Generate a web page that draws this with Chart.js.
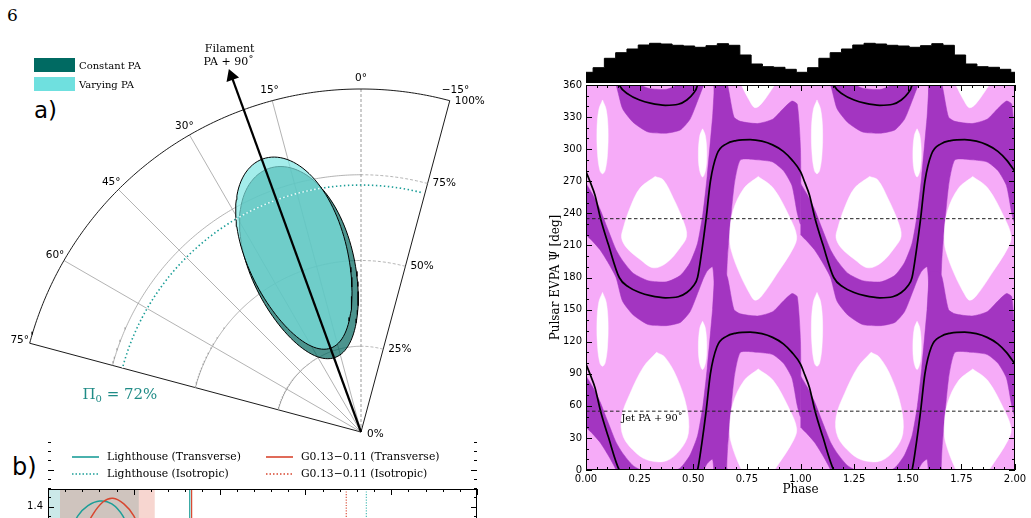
<!DOCTYPE html>
<html><head><meta charset="utf-8">
<script src="https://cdn.jsdelivr.net/npm/chart.js@4.4.1/dist/chart.umd.min.js"></script>
<style>
html,body{margin:0;padding:0;background:#fff;}
body{width:1031px;height:518px;overflow:hidden;position:relative;}
canvas{position:absolute;}
.t{position:absolute;white-space:nowrap;color:#000;line-height:1;}
</style></head>
<body>
<div class="t" style="left:7px;top:5px;font:17px 'DejaVu Serif',serif;">6</div>
<div class="t" style="left:34px;top:97px;font:23px 'DejaVu Sans',sans-serif;">a)</div>
<div class="t" style="left:12px;top:453px;font:24px 'DejaVu Sans',sans-serif;">b)</div>
<canvas id="cPolar" width="520" height="445" style="left:0;top:0"></canvas>
<canvas id="cB" width="520" height="200" style="left:0;top:440px"></canvas>
<canvas id="cHist" width="429" height="43" style="left:586px;top:40px"></canvas>
<canvas id="cMain" width="491" height="443" style="left:540px;top:75px"></canvas>
<script>
// ======================= DATA =======================
// ---- panel a (polar wedge) ----
const angleTicks = [-15, 0, 15, 30, 45, 60, 75];
const radialTicks = [25, 50, 75, 100];
const pi0Value = 72;
const filamentAngle = 20;
const filamentTip = 112;
const ellipseLabels = ['Constant PA', 'Varying PA'];
const ellipseR = [52.2, 55.3];
const ellipseTheta = [19.3, 19.8];
const ellipseMajor = [29.2, 29.3];
const ellipseMinor = [15.2, 14.6];
const eggFactor = 0.13;

// ---- panel b (partial) ----
const bLegend = ['Lighthouse (Transverse)', 'Lighthouse (Isotropic)', 'G0.13\u22120.11 (Transverse)', 'G0.13\u22120.11 (Isotropic)'];
const bTicksY = [0.8, 1.0, 1.2, 1.4];
const lhCurveX = [1.0, 1.74, 2.33, 3.02, 3.72, 4.36, 5.0];
const lhCurveY = [1.22, 1.35, 1.405, 1.43, 1.415, 1.35, 1.22];
const g013CurveX = [1.8, 2.56, 3.2, 3.78, 4.42, 5.0, 5.6];
const g013CurveY = [1.22, 1.35, 1.425, 1.445, 1.415, 1.35, 1.22];
const lhRange = [0, 5.29];
const g013Range = [0.7, 6.22];
const lhTransverse = 8.26, g013Transverse = 8.37;
const g013Isotropic = 17.38, lhIsotropic = 18.55;

// ---- right panel: pulse profile histogram ----
const histStart = -0.0196;
const histBinsPerPeriod = 19;
const histCounts = [10.7, 15.3, 24.7, 30.3, 34, 38, 39.7, 39, 37.7, 37, 35.7, 37.3, 39.3, 37.7, 28, 19, 16.3, 15.7, 13.7];

// ---- right panel: EVPA model curve (one period, deg) ----
const curvePhase = [0, 0.02, 0.042, 0.068, 0.104, 0.155, 0.2, 0.25, 0.3, 0.37, 0.43, 0.47, 0.5, 0.52, 0.54, 0.56, 0.58, 0.61, 0.655, 0.7, 0.765, 0.82, 0.87, 0.92, 0.96, 1.0];
const curvePA    = [279, 269, 257, 235, 211, 180, 171, 166, 163, 161, 162, 166, 172, 180, 205, 235, 270, 295, 305, 308, 309, 307.5, 304, 298, 290, 279];

// ---- right panel: inner (dark) probability band, one period ----
const bandPhase = [0, 0.03, 0.065, 0.10, 0.14, 0.17, 0.22, 0.29, 0.376, 0.44, 0.485, 0.52, 0.545, 0.565, 0.59, 0.605, 0.645, 0.66, 0.69, 0.72, 0.80, 0.87, 0.92, 0.96, 0.985, 1.0];
const bandUpper = [268, 258, 244, 226, 206, 196, 184, 177, 176, 182, 194, 212, 240, 275, 330, 365, 365, 360, 330, 326, 324, 328, 338, 345, 342, 300];
const bandLower = [220, 214, 206, 195, 180, 158, 145, 136, 135, 138, 148, 165, 178, 186, 190, 160, 150, 200, 265, 290, 290, 288, 280, 266, 240, 230];

// ---- right panel: outer (white) low-probability islands ----
const blobAPhase = [0.322, 0.36, 0.407, 0.454, 0.469, 0.438, 0.376, 0.314, 0.252, 0.19, 0.166, 0.174, 0.205, 0.252];
const blobAPA    = [274.4, 271.3, 254.2, 232.6, 218.6, 207.7, 193.8, 189.1, 196.9, 207.7, 217, 226.3, 245, 263.6];
const blobLowAPhase = [0.329, 0.368, 0.423, 0.469, 0.477, 0.438, 0.376, 0.298, 0.236, 0.174, 0.166, 0.205, 0.267];
const blobLowAPA    = [110, 105.4, 86.8, 58.9, 34.1, 18.6, 8.7, 8.7, 15.5, 31, 49.6, 71.3, 96.1];
const blobBPhase = [0.803, 0.873, 0.951, 0.982, 0.967, 0.889, 0.819, 0.788, 0.765, 0.718, 0.678, 0.67, 0.685, 0.737];
const blobBPA    = [274.4, 263.6, 235.7, 218.6, 207.7, 183, 162.8, 158.8, 164.4, 183, 204.7, 218.6, 241.9, 263.6];
const blobE1Phase = [0.077, 0.094, 0.103, 0.1, 0.089, 0.077, 0.065, 0.054, 0.051, 0.06];
const blobE1PA    = [346, 337, 318, 295, 280, 277, 280, 295, 318, 337];
const blobE2Phase = [0.5435, 0.556, 0.563, 0.558, 0.5435, 0.529, 0.524, 0.531];
const blobE2PA    = [319, 313, 297, 281, 274, 281, 297, 313];

const jetLines = [55, 235];
const jetLabel = 'Jet PA + 90\u02DA';

// ======================= STYLE / SETUP =======================
Chart.defaults.font.family = "'DejaVu Sans', sans-serif";
Chart.defaults.animation = false;
Chart.defaults.events = [];
Chart.defaults.plugins.legend.display = false;
Chart.defaults.plugins.tooltip.enabled = false;
Chart.defaults.elements.point.radius = 0;
Chart.defaults.elements.line.capBezierPoints = false;

const TEAL = '#1c9e98', RED = '#d8462f';
const DARK = '#a335c1', LIGHT = '#f6abf8';

// ======================= PANEL A =======================
function pol(r, deg){ const t = deg*Math.PI/180; return {x: -r*Math.sin(t), y: r*Math.cos(t)}; }
function arcPts(r, a0, a1){ const out=[]; const n=Math.max(2,Math.ceil(Math.abs(a1-a0)*2)); for(let i=0;i<=n;i++) out.push(pol(r, a0+(a1-a0)*i/n)); return out; }
function eggPts(i){
  const c = pol(ellipseR[i], ellipseTheta[i]);
  const t = ellipseTheta[i]*Math.PI/180;
  const er = {x:-Math.sin(t), y:Math.cos(t)}, ep = {x:Math.cos(t), y:Math.sin(t)};
  const pts=[];
  for(let k=0;k<=120;k++){
    const s = 2*Math.PI*k/120;
    const u = ellipseMajor[i]*Math.cos(s);
    const v = ellipseMinor[i]*(1+eggFactor*Math.cos(s))*Math.sin(s);
    pts.push({x:c.x+u*er.x+v*ep.x, y:c.y+u*er.y+v*ep.y});
  }
  return pts;
}
const aMin = angleTicks[0], aMax = angleTicks[angleTicks.length-1];
const pxPerPct = 3.43, originPx = {x:361, y:432}, cPW = 520, cPH = 445;
const polarSets = [];
radialTicks.forEach(r=>{
  const outer = r === radialTicks[radialTicks.length-1];
  polarSets.push({data: arcPts(r, 0, aMax), borderColor: outer?'#000':'#a0a0a0', borderWidth: outer?0.9:0.8, order: 20});
  polarSets.push({data: arcPts(r, aMin, 0), borderColor: outer?'#000':'#a0a0a0', borderWidth: outer?0.9:0.8, borderDash: outer?[]:[3,2], order: 20});
});
angleTicks.forEach(a=>{
  const edge = a===aMin || a===aMax;
  polarSets.push({data:[pol(0,a), pol(radialTicks[radialTicks.length-1],a)], borderColor: edge?'#000':(a===0?'#808080':'#a0a0a0'), borderWidth: edge?0.9:0.8, borderDash: a===0?[3,2]:[], order: 20});
});
polarSets.push({data: arcPts(pi0Value, aMin+1, aMax), borderColor: TEAL, borderWidth: 1.6, borderDash:[1.5,2.5], order: 15});
polarSets.push({label: ellipseLabels[0], data: eggPts(0), fill:'shape', backgroundColor:'rgba(0,102,94,0.70)', borderColor:'#000', borderWidth:1, order: 12});
polarSets.push({label: ellipseLabels[1], data: eggPts(1), fill:'shape', backgroundColor:'rgba(125,230,226,0.70)', borderColor:'#000', borderWidth:1, order: 11});
polarSets.push({data: arcPts(pi0Value, aMin+1, aMax), borderColor: 'rgba(255,255,255,0.9)', borderWidth: 1.4, borderDash:[1.5,2.5], borderDashOffset: 2, order: 10});
const headR = 5.5;
polarSets.push({data:[pol(0,filamentAngle), pol(filamentTip - headR/pxPerPct, filamentAngle)], borderColor:'#000', borderWidth:2.2,
  pointRadius:[0, headR], pointStyle:'triangle', rotation:-filamentAngle, pointBackgroundColor:'#000', pointBorderColor:'#000', order: 1});

const polarText = {
  id:'polarText',
  afterDraw(chart){
    const {ctx, scales:{x,y}} = chart;
    const P = (r,a)=>{const p=pol(r,a); return [x.getPixelForValue(p.x), y.getPixelForValue(p.y)];};
    ctx.save();
    ctx.fillStyle = '#000';
    ctx.font = "10.5px 'DejaVu Sans'";
    ctx.textAlign = 'center'; ctx.textBaseline = 'middle';
    angleTicks.forEach(a=>{
      const [px,py] = P(103, a);
      const txt = (a<0?'\u2212'+Math.abs(a):String(a)) + '\u00B0';
      ctx.fillText(txt, px + (a<0?3:0), py);
    });
    ctx.textAlign = 'left';
    radialTicks.concat([0]).forEach(r=>{
      const [px,py] = P(r, aMin);
      ctx.fillText(r+'%', px + (r===0?6:5), py + (r===100?1:0) + (r===0?2:0));
    });
    // filament label
    const [tx,ty] = P(filamentTip, filamentAngle);
    ctx.font = "11px 'DejaVu Serif'";
    ctx.textAlign = 'center';
    ctx.fillText('Filament', tx, ty - 22);
    ctx.fillText('PA + 90\u02DA', tx - 1, ty - 9);
    // Pi_0 label
    const [lx,ly] = P(pi0Value, aMax);
    ctx.fillStyle = '#1f8b86';
    ctx.textAlign = 'left';
    ctx.font = "15px 'DejaVu Serif'";
    const x0 = lx - 40, y0 = ly + 27;
    ctx.fillText('\u03A0', x0, y0);
    const w1 = ctx.measureText('\u03A0').width;
    ctx.font = "10px 'DejaVu Serif'";
    ctx.fillText('0', x0 + w1, y0 + 4);
    const w2 = ctx.measureText('0').width;
    ctx.font = "15px 'DejaVu Serif'";
    ctx.fillText(' = ' + pi0Value + '%', x0 + w1 + w2, y0);
    // legend
    const sw = ['#006a62', '#6fe0df'];
    ctx.font = "10px 'DejaVu Serif'";
    ctx.fillStyle = '#000';
    ellipseLabels.forEach((lab,i)=>{
      const yy = 58 + i*19;
      ctx.fillStyle = sw[i];
      ctx.fillRect(34, yy, 41, 14);
      ctx.fillStyle = '#000';
      ctx.fillText(lab, 79, yy + 8);
    });
    ctx.restore();
  }
};

new Chart(document.getElementById('cPolar'), {
  type:'line',
  data:{datasets: polarSets},
  options:{
    responsive:false,
    layout:{padding:0, autoPadding:false},
    scales:{
      x:{type:'linear', display:false, min:-originPx.x/pxPerPct, max:(cPW-originPx.x)/pxPerPct},
      y:{type:'linear', display:false, min:-(cPH-originPx.y)/pxPerPct, max:originPx.y/pxPerPct}
    },
    plugins:{legend:{display:false}}
  },
  plugins:[polarText]
});

// ======================= PANEL B (partial) =======================
function rect(r){ return [{x:r[0],y:0.5},{x:r[0],y:1.7},{x:r[1],y:1.7},{x:r[1],y:0.5}]; }
function vline(v){ return [{x:v,y:0.5},{x:v,y:1.7}]; }
const bSets = [
  {data: rect(lhRange), fill:'shape', backgroundColor:'rgba(20,150,150,0.22)', borderColor:'rgba(0,0,0,0)', borderWidth:0.01, order: 10},
  {data: rect(g013Range), fill:'shape', backgroundColor:'rgba(220,70,40,0.22)', borderColor:'rgba(0,0,0,0)', borderWidth:0.01, order: 9},
  {data: lhCurveX.map((v,i)=>({x:v,y:lhCurveY[i]})), borderColor:TEAL, borderWidth:1.5, tension:0.4, order: 5},
  {data: g013CurveX.map((v,i)=>({x:v,y:g013CurveY[i]})), borderColor:RED, borderWidth:1.5, tension:0.4, order: 4},
  {data: vline(lhTransverse), borderColor:TEAL, borderWidth:1.2, order: 3},
  {data: vline(g013Transverse), borderColor:RED, borderWidth:1.2, order: 3},
  {data: vline(g013Isotropic), borderColor:RED, borderWidth:1.1, borderDash:[1.2,1.5], order: 3},
  {data: vline(lhIsotropic), borderColor:'#3fb8b2', borderWidth:1.1, borderDash:[1.2,1.5], order: 3}
];
const bPlugin = {
  id:'bExtras',
  afterDraw(chart){
    const {ctx, chartArea:a, scales:{x,y}} = chart;
    ctx.save();
    ctx.strokeStyle = '#000'; ctx.lineWidth = 1;
    ctx.strokeRect(a.left+0.5, a.top+0.5, a.right-a.left-1, a.bottom-a.top);
    ctx.beginPath();
    for (let v=0; v<=25; v++){
      const px = Math.round(x.getPixelForValue(v))+0.5;
      const len = v%5===0 ? 6 : 3;
      ctx.moveTo(px, a.top); ctx.lineTo(px, a.top+len);
    }
    for (let k=0; k<=20; k++){
      const v = 0.8 + k*0.05;
      const py = Math.round(y.getPixelForValue(v))+0.5;
      const len = (k%4===0) ? 6 : 3;
      ctx.moveTo(a.left, py); ctx.lineTo(a.left+len, py);
      ctx.moveTo(a.right, py); ctx.lineTo(a.right-len, py);
    }
    ctx.stroke();
    // legend
    ctx.font = "10.8px 'DejaVu Serif'";
    ctx.fillStyle = '#000';
    ctx.textBaseline = 'middle';
    const items = [
      {c:TEAL, d:[], x:72, y:17, t:bLegend[0]},
      {c:TEAL, d:[1.5,2], x:72, y:34, t:bLegend[1]},
      {c:RED, d:[], x:266, y:17, t:bLegend[2]},
      {c:RED, d:[1.5,2], x:266, y:34, t:bLegend[3]}
    ];
    items.forEach(it=>{
      ctx.strokeStyle = it.c; ctx.lineWidth = 1.6; ctx.setLineDash(it.d);
      ctx.beginPath(); ctx.moveTo(it.x, it.y); ctx.lineTo(it.x+27, it.y); ctx.stroke();
      ctx.setLineDash([]);
      ctx.fillText(it.t, it.x+35, it.y);
    });
    ctx.restore();
  }
};
new Chart(document.getElementById('cB'), {
  type:'line',
  data:{datasets:bSets},
  options:{
    responsive:false,
    layout:{padding:{left:0, right:43, top:49, bottom:0}, autoPadding:false},
    scales:{
      x:{type:'linear', display:false, min:0, max:25},
      y:{type:'linear', min:1.495-151/200, max:1.495,
         afterBuildTicks(s){ s.ticks = bTicksY.map(v=>({value:v})); },
         afterFit(s){ s.width = 48; },
         ticks:{color:'#000', font:{size:10, family:"'DejaVu Sans'"}, padding:5, callback:v=>v.toFixed(1)},
         grid:{display:false, drawTicks:false}, border:{display:false}}
    }
  },
  plugins:[bPlugin]
});

// ======================= HISTOGRAM =======================
const histPts = [];
const histW = 1/histBinsPerPeriod;
const nBins = histBinsPerPeriod*2 + 1;
for (let i=0;i<nBins;i++) histPts.push({x: histStart + i*histW, y: histCounts[i % histCounts.length]});
histPts.push({x: histStart + nBins*histW, y: histCounts[(nBins-1) % histCounts.length]});
new Chart(document.getElementById('cHist'), {
  type:'line',
  data:{datasets:[{data:histPts, stepped:true, fill:'origin', backgroundColor:'#000', borderColor:'#000', borderWidth:1}]},
  options:{
    responsive:false,
    layout:{padding:0, autoPadding:false},
    scales:{
      x:{type:'linear', display:false, min:0, max:2},
      y:{type:'linear', display:false, min:0, max:43}
    }
  }
});

// ======================= MAIN EVPA MAP =======================
const periods = [0, 1];
const paCopies = [-360, -180, 0, 180];
const mainSets = [];
const bandPoly = bandPhase.map((p,i)=>[p, bandUpper[i]]).concat(bandPhase.map((p,i)=>[p, bandLower[i]]).reverse());
periods.forEach(k=>paCopies.forEach(off=>{
  mainSets.push({data: bandPoly.map(([p,v])=>({x:p+k, y:v+off})), fill:'shape', backgroundColor:DARK,
    borderColor:DARK, borderWidth:0.5, tension:0.2, order: 6});
}));
const blobs = [
  {ph: blobAPhase, pa: blobAPA, offs:[0]},
  {ph: blobLowAPhase, pa: blobLowAPA, offs:[0]},
  {ph: blobBPhase, pa: blobBPA, offs:[-180, 0, 180]},
  {ph: blobE1Phase, pa: blobE1PA, offs:[-180, 0]},
  {ph: blobE2Phase, pa: blobE2PA, offs:[-180, 0]}
];
blobs.forEach(b=>periods.forEach(k=>b.offs.forEach(off=>{
  const pts = b.ph.map((p,i)=>({x:p+k, y:b.pa[i]+off}));
  pts.push({...pts[0]});
  mainSets.push({data: pts, fill:'shape', backgroundColor:'#fff', borderColor:'#fff', borderWidth:0.5, tension:0.35, order: 4});
})));
[-180, 0, 180].forEach(off=>{
  const pts = [];
  periods.forEach(k=>curvePhase.forEach((p,i)=>{ if (k>0 && i===0) return; pts.push({x:p+k, y:curvePA[i]+off}); }));
  mainSets.push({data: pts, borderColor:'#000', borderWidth:1.7, cubicInterpolationMode:'monotone', order: 2});
});
jetLines.forEach(v=>{
  mainSets.push({data:[{x:0,y:v},{x:2,y:v}], borderColor:'#222', borderWidth:1, borderDash:[3.5,2.5], order: 1});
});

const mainPlugin = {
  id:'mainExtras',
  beforeDatasetsDraw(chart){
    const {ctx, chartArea:a} = chart;
    ctx.save(); ctx.fillStyle = LIGHT; ctx.fillRect(a.left, a.top, a.right-a.left, a.bottom-a.top); ctx.restore();
  },
  afterDatasetsDraw(chart){
    const {ctx, chartArea:a, scales:{x,y}} = chart;
    ctx.save();
    ctx.strokeStyle = '#000'; ctx.lineWidth = 1;
    ctx.strokeRect(a.left+0.5, a.top+0.5, a.right-a.left-1, a.bottom-a.top-1);
    ctx.beginPath();
    for (let k=0; k<=40; k++){
      const v = k*0.05;
      const px = Math.round(x.getPixelForValue(v))+0.5;
      const len = k%5===0 ? 6 : 3;
      ctx.moveTo(px, a.bottom); ctx.lineTo(px, a.bottom-len);
      ctx.moveTo(px, a.top); ctx.lineTo(px, a.top+len);
    }
    for (let v=0; v<=360; v+=10){
      const py = Math.round(y.getPixelForValue(v))+0.5;
      const len = v%30===0 ? 6 : 3;
      ctx.moveTo(a.left, py); ctx.lineTo(a.left+len, py);
      ctx.moveTo(a.right, py); ctx.lineTo(a.right-len, py);
    }
    ctx.stroke();
    ctx.fillStyle = '#000';
    ctx.font = "9.8px 'DejaVu Serif'";
    ctx.textBaseline = 'middle'; ctx.textAlign = 'left';
    ctx.fillText(jetLabel, x.getPixelForValue(0.165), y.getPixelForValue(jetLines[0]) + 7);
    ctx.restore();
  }
};

new Chart(document.getElementById('cMain'), {
  type:'line',
  data:{datasets: mainSets},
  options:{
    responsive:false,
    layout:{padding:{left:0, right:16, top:8, bottom:0}, autoPadding:false},
    scales:{
      x:{type:'linear', min:0, max:2,
        ticks:{stepSize:0.25, callback:v=>Number(v).toFixed(2), color:'#000', font:{size:10}, padding:3, maxRotation:0, autoSkip:false},
        grid:{display:false, drawTicks:false}, border:{display:false},
        title:{display:true, text:'Phase', color:'#000', font:{family:"'DejaVu Serif'", size:12}, padding:{top:0, bottom:21}},
        afterFit(s){ s.height = 48; }},
      y:{type:'linear', min:0, max:360,
        ticks:{stepSize:30, color:'#000', font:{size:10}, padding:4},
        grid:{display:false, drawTicks:false}, border:{display:false},
        title:{display:true, text:'Pulsar EVPA \u03A8 [deg]', color:'#000', font:{family:"'DejaVu Serif'", size:12}, padding:{top:9, bottom:0}},
        afterFit(s){ s.width = 46; }}
    }
  },
  plugins:[mainPlugin]
});
</script>
</body></html>
